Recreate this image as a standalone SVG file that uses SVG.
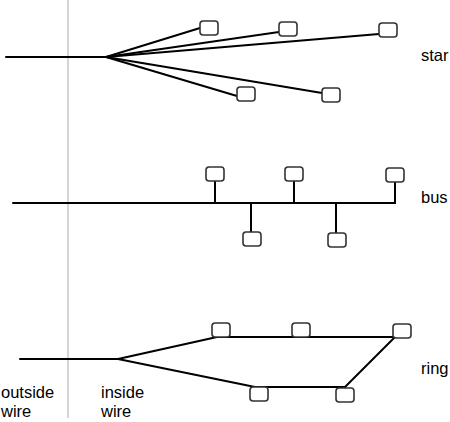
<svg xmlns="http://www.w3.org/2000/svg" width="450" height="422" viewBox="0 0 450 422">
<style>
.w{stroke:#000;stroke-width:2;fill:none;stroke-linecap:round}
.b{fill:#fff;stroke:#333;stroke-width:1.6}
.t{font-family:"Liberation Sans",Arial,sans-serif;font-size:16.5px;fill:#000}
.d{stroke:#aaa;stroke-width:1}
</style>
<defs><rect id="box" width="18" height="14" rx="3" ry="3" class="b"/></defs>
<rect width="450" height="422" fill="#fff"/>
<line class="d" x1="68" y1="0" x2="68" y2="418"/>
<g id="connectors">
<line class="w" x1="6" y1="57" x2="106" y2="57"/>
<line class="w" x1="106" y1="57" x2="200" y2="28"/>
<line class="w" x1="106" y1="57" x2="279" y2="32"/>
<line class="w" x1="106" y1="57" x2="379" y2="34"/>
<line class="w" x1="106" y1="57" x2="237" y2="96"/>
<line class="w" x1="106" y1="57" x2="322" y2="93"/>
<line class="w" x1="13" y1="203" x2="395" y2="203"/>
<line class="w" x1="215" y1="181" x2="215" y2="203"/>
<line class="w" x1="294" y1="181" x2="294" y2="203"/>
<line class="w" x1="395" y1="182" x2="395" y2="203"/>
<line class="w" x1="251" y1="203" x2="251" y2="232"/>
<line class="w" x1="336" y1="203" x2="336" y2="233"/>
<line class="w" x1="20" y1="359" x2="118" y2="359"/>
<line class="w" x1="118" y1="359" x2="217" y2="337"/>
<line class="w" x1="217" y1="337" x2="395" y2="337"/>
<line class="w" x1="395" y1="337" x2="345" y2="387"/>
<line class="w" x1="255" y1="387" x2="345" y2="387"/>
<line class="w" x1="118" y1="359" x2="255" y2="387"/>
</g>
<g id="star-n1"><use href="#box" x="200" y="21"/></g>
<g id="star-n2"><use href="#box" x="279" y="22"/></g>
<g id="star-n3"><use href="#box" x="379" y="23"/></g>
<g id="star-n4"><use href="#box" x="237" y="87"/></g>
<g id="star-n5"><use href="#box" x="322" y="88"/></g>
<g id="bus-n1"><use href="#box" x="206" y="167"/></g>
<g id="bus-n2"><use href="#box" x="285" y="167"/></g>
<g id="bus-n3"><use href="#box" x="386" y="168"/></g>
<g id="bus-n4"><use href="#box" x="243" y="232"/></g>
<g id="bus-n5"><use href="#box" x="328" y="233"/></g>
<g id="ring-n1"><use href="#box" x="212" y="323"/></g>
<g id="ring-n2"><use href="#box" x="292" y="323"/></g>
<g id="ring-n3"><use href="#box" x="393" y="324"/></g>
<g id="ring-n4"><use href="#box" x="250" y="387"/></g>
<g id="ring-n5"><use href="#box" x="336" y="388"/></g>
<g id="labels">
<text class="t" x="421" y="61">star</text>
<text class="t" x="421" y="203">bus</text>
<text class="t" x="421" y="374">ring</text>
<text class="t" x="1" y="398">outside</text>
<text class="t" x="1" y="417">wire</text>
<text class="t" x="101" y="398">inside</text>
<text class="t" x="101" y="417">wire</text>
</g>
</svg>
